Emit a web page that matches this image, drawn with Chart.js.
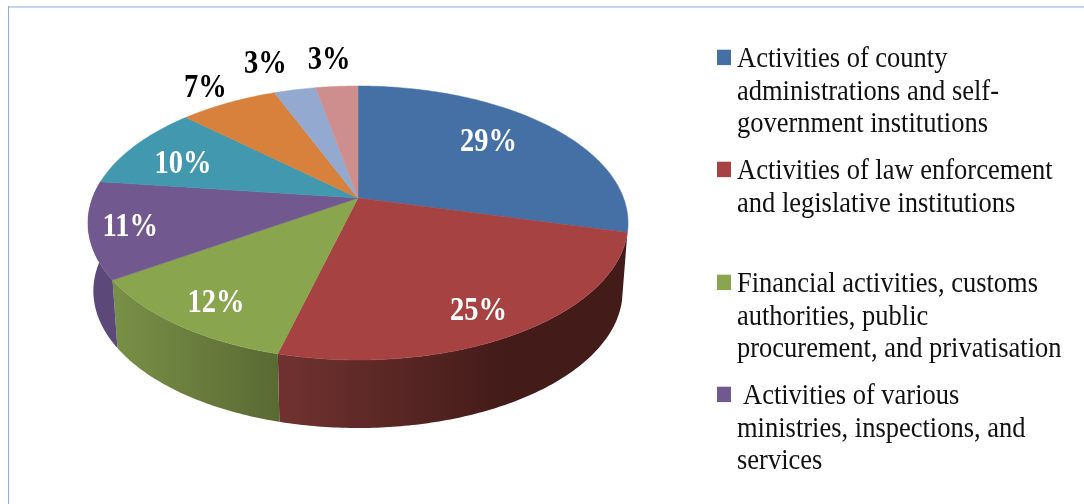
<!DOCTYPE html>
<html>
<head>
<meta charset="utf-8">
<title>Pie chart</title>
<script src="https://cdn.jsdelivr.net/npm/chart.js@4"></script>
<style>
    html, body { margin: 0; padding: 0; background: #fff; overflow: hidden; }
    #wrap { position: relative; width: 1084px; height: 504px; }
    #frameTop { position: absolute; left: 8px; right: 0; top: 6px; height: 2px; background: #c3d6ec; }
    #frameLeft { position: absolute; left: 8px; top: 6px; bottom: 0; width: 1px; background: #8bb0de; }
    canvas { position: absolute; left: 0; top: 0; }
    /* the text in the picture is a little stretched upwards */
    .legendRow { position: absolute; left: 717px; font: 26.5px/29.7px "Liberation Serif", serif; color: #111; white-space: nowrap; transform: scaleY(1.1); transform-origin: 0 0; }
    .legendRow span { position: absolute; left: 0; top: 7px; width: 14px; height: 13.6px; }
    .legendRow div { margin-left: 20px; }
</style>
</head>
<body>
<div id="wrap">
    <div id="frameTop"></div>
    <div id="frameLeft"></div>
    <canvas id="myChart" width="1084" height="504"></canvas>
    <div id="legend"></div>
</div>
<script>
const categories = [
    'Activities of county administrations and self-government institutions',
    'Activities of law enforcement and legislative institutions',
    'Financial activities, customs authorities, public procurement, and privatisation',
    'Activities of various ministries, inspections, and services',
    'Other activities 1',
    'Other activities 2',
    'Other activities 3',
    'Other activities 4'
];
const values = [29, 25, 11.6, 11.4, 10, 7, 3, 3];
const sliceColors = ['#4470a5', '#a64342', '#89a54e', '#71588f', '#4198af', '#d7813c', '#93a9cf', '#cd8e8d'];

// only these four rows are visible in the picture, the rest is cut off
const legendLines = [
    ['Activities of county', 'administrations and self-', 'government institutions'],
    ['Activities of law enforcement', 'and legislative institutions'],
    ['Financial activities, customs', 'authorities, public', 'procurement, and privatisation'],
    ['Activities of various', 'ministries, inspections, and', 'services']
];
const legendTops = [42.4, 154.4, 267.4, 379.4];
const legendIndent = [0, 0, 0, 6];

// side colours of the slices, left and right end of the gradient
const sideLeft = { 1: '#703230', 2: '#788f47', 3: '#5c4879' };
const sideRight = { 1: '#431b19', 2: '#5a6a33', 3: '#5c4879' };
const sideStop = { 1: 0.65, 2: 1, 3: 1 };

const labelRadius = [0.71, 0.83, 0.83, 0.85, 0.75, 1.21, 1.33, 1.31];
const labelTurn = [-3.5, 2.3, -1, 0, -2.8, 0, -2.6, -0.5];   // degrees
const labelDark = [false, false, false, false, false, true, true, true];

// perspective of the disc
const rimX = 265.5;
const rimY = 96.3;
const tilt = 0.1825;
const depth = 68;
const bottomShrink = 0.98;

function project(arc, angle, radius) {
    // angle as chart.js gives it, radius 1 = rim
    let u = Math.cos(angle) * radius;
    let v = Math.sin(angle) * radius;
    let w = 1 - tilt * v;
    return { x: arc.x + rimX * u / w, y: (arc.y + rimY * v) / w };
}

function projectBottom(arc, angle) {
    let p = project(arc, angle, 1);
    return { x: arc.x + (p.x - arc.x) * bottomShrink, y: p.y + depth };
}

function traceRim(ctx, arc, from, to, bottom) {
    let steps = Math.max(2, Math.ceil(Math.abs(to - from) * 80));
    for (let i = 0; i <= steps; i++) {
        let a = from + (to - from) * i / steps;
        let p = bottom ? projectBottom(arc, a) : project(arc, a, 1);
        ctx.lineTo(p.x, p.y);
    }
}

function drawSide(ctx, arc, i) {
    // blue and the back slices show no side
    if (!sideLeft[i]) return;
    let from = arc.startAngle;
    let to = Math.min(arc.endAngle, Math.PI * 1.1);
    if (to <= from) return;
    let a = projectBottom(arc, to);
    let b = project(arc, from, 1);
    let gradient = ctx.createLinearGradient(a.x, 0, b.x, 0);
    gradient.addColorStop(0, sideLeft[i]);
    gradient.addColorStop(sideStop[i], sideRight[i]);
    gradient.addColorStop(1, sideRight[i]);
    ctx.beginPath();
    traceRim(ctx, arc, from, to, false);
    traceRim(ctx, arc, to, from, true);
    ctx.closePath();
    ctx.fillStyle = gradient;
    ctx.fill();
}

function drawTop(ctx, arc) {
    let center = project(arc, arc.startAngle, 0);
    ctx.beginPath();
    ctx.moveTo(center.x, center.y);
    traceRim(ctx, arc, arc.startAngle, arc.endAngle, false);
    ctx.closePath();
    ctx.fillStyle = arc.options.backgroundColor;
    ctx.fill();
    ctx.strokeStyle = arc.options.backgroundColor;
    ctx.lineWidth = 0.5;
    ctx.stroke();
}

function drawLabel(ctx, arc, i) {
    let mid = (arc.startAngle + arc.endAngle) / 2 + labelTurn[i] * Math.PI / 180;
    let p = project(arc, mid, labelRadius[i]);
    ctx.save();
    ctx.translate(p.x, p.y + 2);
    ctx.scale(1, 1.17);
    ctx.fillStyle = labelDark[i] ? '#000000' : '#ffffff';
    ctx.fillText(Math.round(values[i]) + '%', 0, 0);
    ctx.restore();
}

const perspectivePie = {
    id: 'perspectivePie',
    beforeDatasetDraw(chart) {
        // the arcs keep the angles chart.js worked out, only the drawing is replaced
        const ctx = chart.ctx;
        const arcs = chart.getDatasetMeta(0).data;
        ctx.save();
        arcs.forEach((arc, i) => drawSide(ctx, arc, i));
        arcs.forEach(arc => drawTop(ctx, arc));
        ctx.font = 'bold 28.5px "Liberation Serif"';
        ctx.textAlign = 'center';
        ctx.textBaseline = 'middle';
        arcs.forEach((arc, i) => drawLabel(ctx, arc, i));
        ctx.restore();
        return false;
    }
};

function renderLegend() {
    let container = document.getElementById('legend');
    container.innerHTML = '';
    for (let i = 0; i < legendLines.length; i++) {
        container.innerHTML += `
            <div class="legendRow" style="top:${legendTops[i]}px">
                <span style="background:${sliceColors[i]}"></span>
                <div style="text-indent:${legendIndent[i]}px">${legendLines[i].join('<br>')}</div>
            </div>`;
    }
}

function loadChart() {
    new Chart(document.getElementById('myChart'), {
        type: 'pie',
        data: {
            labels: categories,
            datasets: [{
                data: values,
                backgroundColor: sliceColors,
                borderWidth: 0
            }]
        },
        options: {
            responsive: false,
            animation: false,
            // keeps the pie centre where the apex of the disc sits
            layout: { padding: { right: 368, bottom: 108 } },
            plugins: {
                legend: { display: false },
                tooltip: { enabled: false }
            }
        },
        plugins: [perspectivePie]
    });
}

renderLegend();
loadChart();
</script>
</body>
</html>
